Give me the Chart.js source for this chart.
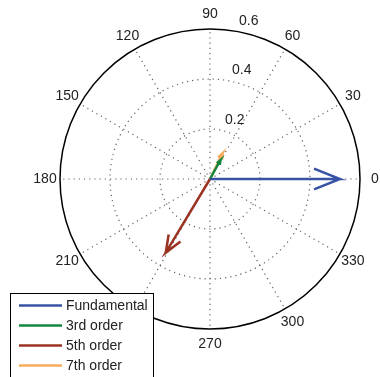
<!DOCTYPE html>
<html>
<head>
<meta charset="utf-8">
<script src="https://cdn.jsdelivr.net/npm/chart.js@4.4.0/dist/chart.umd.min.js"></script>
<style>
  html, body { margin: 0; padding: 0; background: #fff; }
</style>
</head>
<body>
<canvas id="compassChart" width="380" height="377"></canvas>
<script>
// harmonic phasors: magnitude and phase angle (degrees)
const seriesNames = ['Fundamental', '3rd order', '5th order', '7th order'];
const magnitudes = [0.52, 0.086, 0.344, 0.115];
const anglesDeg = [0, 61, 239, 64];
const seriesColors = ['#3853a4', '#13873f', '#9a3322', '#f9ac5c'];

// polar grid
const ringValues = [0.2, 0.4, 0.6];
const angleTicks = [0, 30, 60, 90, 120, 150, 180, 210, 240, 270, 300, 330];
const rMax = 0.6;

const FONT = '14px "Liberation Sans", Arial, sans-serif';

// compass arrow: shaft to tip, then a head 20% long and 8% half-width
function arrowPoints(mag, deg) {
  const t = deg * Math.PI / 180;
  const c = Math.cos(t), s = Math.sin(t);
  const shape = [[0, 0], [1, 0], [0.8, 0.08], [1, 0], [0.8, -0.08]];
  return shape.map(([a, b]) => ({
    x: mag * (a * c - b * s),
    y: mag * (a * s + b * c)
  }));
}

const datasets = seriesNames.map((name, i) => ({
  label: name,
  data: arrowPoints(magnitudes[i], anglesDeg[i]),
  borderColor: seriesColors[i],
  backgroundColor: seriesColors[i],
  borderWidth: 2.5,
  borderJoinStyle: 'miter',
  borderCapStyle: 'butt',
  showLine: true,
  pointRadius: 0,
  tension: 0,
  clip: false
}));

const polarGrid = {
  id: 'polarGrid',
  beforeDatasetsDraw(chart) {
    const { ctx, scales: { x, y } } = chart;
    const cx = x.getPixelForValue(0), cy = y.getPixelForValue(0);
    const pr = v => x.getPixelForValue(v) - cx;
    ctx.save();
    // dotted rings
    ctx.strokeStyle = 'rgba(70,70,70,0.85)';
    ctx.lineWidth = 1.2;
    ctx.setLineDash([1.2, 4]);
    ringValues.filter(v => v < rMax).forEach(v => {
      ctx.beginPath();
      ctx.arc(cx, cy, pr(v), 0, Math.PI * 2);
      ctx.stroke();
    });
    // dotted spokes
    angleTicks.forEach(a => {
      const t = a * Math.PI / 180;
      ctx.beginPath();
      ctx.moveTo(cx, cy);
      ctx.lineTo(cx + pr(rMax) * Math.cos(t), cy - pr(rMax) * Math.sin(t));
      ctx.stroke();
    });
    // outer circle
    ctx.setLineDash([]);
    ctx.strokeStyle = '#000';
    ctx.lineWidth = 1.5;
    ctx.beginPath();
    ctx.arc(cx, cy, pr(rMax), 0, Math.PI * 2);
    ctx.stroke();

    // angle labels
    ctx.fillStyle = '#222';
    ctx.font = FONT;
    ctx.textAlign = 'center';
    ctx.textBaseline = 'middle';
    angleTicks.forEach(a => {
      const t = a * Math.PI / 180;
      const r = pr(rMax * 1.1);
      ctx.fillText(String(a), cx + r * Math.cos(t), cy - r * Math.sin(t));
    });
    // radius labels along 82 degrees
    ctx.textAlign = 'left';
    ctx.textBaseline = 'bottom';
    const t82 = 82 * Math.PI / 180;
    ringValues.forEach(v => {
      const r = pr(v + 0.01);
      ctx.fillText('  ' + v.toFixed(1), cx + r * Math.cos(t82), cy - r * Math.sin(t82));
    });
    ctx.restore();
  },
  afterDatasetsDraw(chart) {
    const { ctx } = chart;
    ctx.save();
    // legend box in the lower left corner
    const bx = 10.5, by = 293.5, bw = 143, bh = 90;
    ctx.fillStyle = '#fff';
    ctx.fillRect(bx, by, bw, bh);
    ctx.strokeStyle = '#000';
    ctx.lineWidth = 1;
    ctx.strokeRect(bx, by, bw, bh);
    ctx.font = FONT;
    ctx.textAlign = 'left';
    ctx.textBaseline = 'middle';
    chart.data.datasets.forEach((ds, i) => {
      const ry = 305.5 + i * 20;
      ctx.strokeStyle = ds.borderColor;
      ctx.lineWidth = 2.5;
      ctx.beginPath();
      ctx.moveTo(19, ry);
      ctx.lineTo(62, ry);
      ctx.stroke();
      ctx.fillStyle = '#222';
      ctx.fillText(ds.label, 66, ry + 1);
    });
    ctx.restore();
  }
};

new Chart(document.getElementById('compassChart').getContext('2d'), {
  type: 'scatter',
  data: { datasets },
  options: {
    responsive: false,
    animation: false,
    devicePixelRatio: 1,
    layout: { padding: { left: 60, right: 20, top: 29, bottom: 48 } },
    scales: {
      x: { type: 'linear', min: -rMax, max: rMax, display: false },
      y: { type: 'linear', min: -rMax, max: rMax, display: false }
    },
    plugins: {
      legend: { display: false },
      tooltip: { enabled: false }
    }
  },
  plugins: [polarGrid]
});
</script>
</body>
</html>
